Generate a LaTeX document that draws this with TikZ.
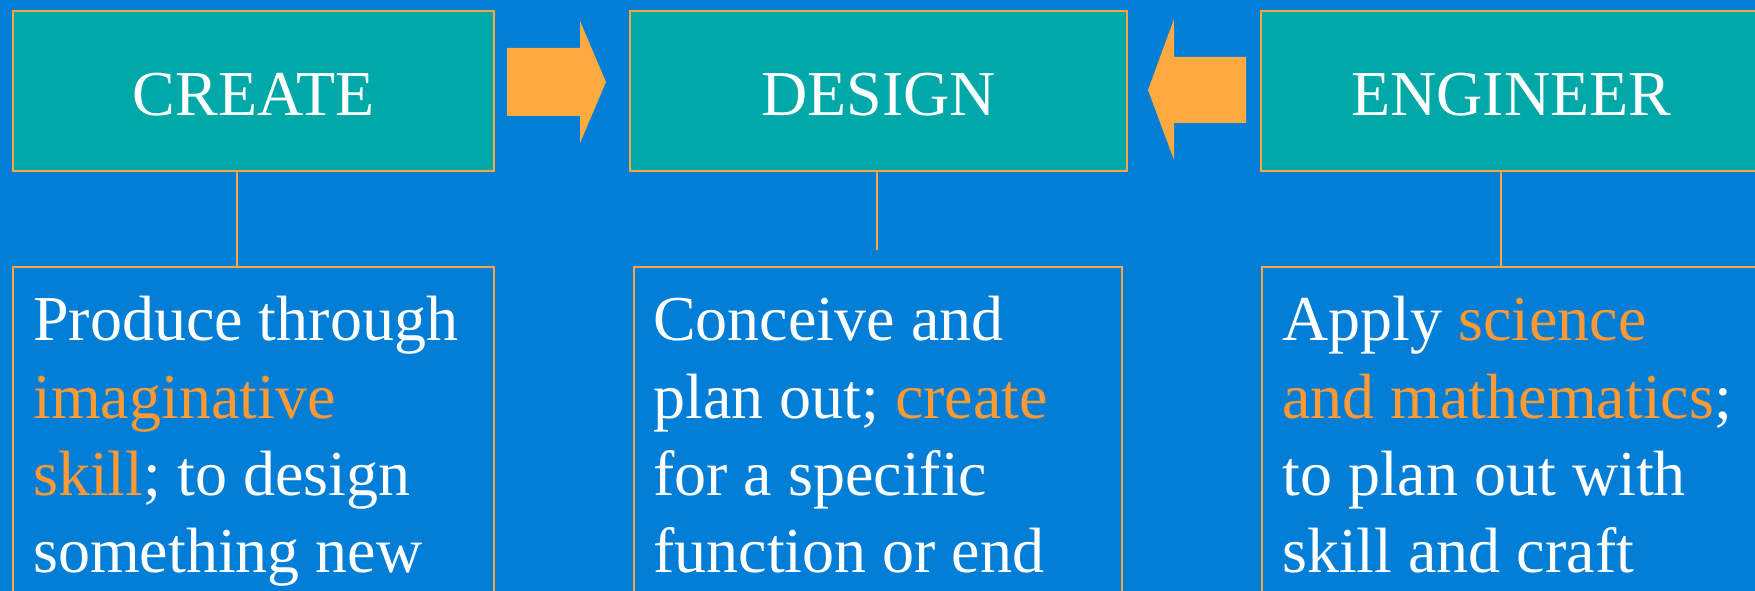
\documentclass[tikz,border=0pt]{standalone}
\usepackage{fontspec}
\setmainfont{Liberation Serif}
\usepackage{tikz}
\usetikzlibrary{positioning}

\definecolor{bgblue}{RGB}{2,126,214}
\definecolor{boxteal}{RGB}{0,168,168}
\definecolor{edgeorange}{RGB}{255,166,60}
\definecolor{arroworange}{RGB}{255,170,64}
\definecolor{hl}{RGB}{255,153,51}

\tikzset{
  topbox/.style={draw=edgeorange, line width=1.8pt, fill=boxteal, text=white,
    inner sep=0pt, anchor=north west, minimum height=120pt,
    font=\fontsize{48}{56}\selectfont, text height=36pt, text depth=0pt},
  lowbox/.style={draw=edgeorange, line width=1.8pt, inner sep=0pt,
    anchor=north west, minimum height=300pt},
  note/.style={text=white, inner sep=0pt, anchor=north west, align=left,
    font=\fontsize{48}{58}\selectfont},
  link/.style={draw=edgeorange, line width=1.8pt},
  blockarrow/.style={fill=arroworange, draw=none}
}

\begin{document}
\begin{tikzpicture}[x=0.75pt,y=0.75pt,yscale=-1,xscale=1]
    \useasboundingbox (0,0) rectangle (1755,591);
    \clip (0,0) rectangle (1755,591);
    \fill[bgblue] (0,0) rectangle (1755,591);

    %top row
    \node[topbox, minimum width=360.75pt] (createbox) at (12,10) {CREATE};
    \node[topbox, minimum width=372.75pt] (designbox) at (629,10) {DESIGN};
    \node[topbox, minimum width=375pt] (engbox) at (1260,10) {ENGINEER};

    %block arrows between the top boxes
    \path[blockarrow] (507,48) -- (580,48) -- (580,21) -- (606,82) -- (580,143) -- (580,116) -- (507,116) -- cycle;
    \path[blockarrow] (1246,57) -- (1174,57) -- (1174,19) -- (1148,90) -- (1174,160) -- (1174,123) -- (1246,123) -- cycle;

    %lower row
    \node[lowbox, minimum width=360.75pt] (createlow) at (12,266) {};
    \node[lowbox, minimum width=366pt] (designlow) at (633,266) {};
    \node[lowbox, minimum width=375pt] (englow) at (1261,266) {};

    \node[note] (createnote) at (33,296) {Produce through\\
      \textcolor{hl}{imaginative}\\
      \textcolor{hl}{skill}; to design\\
      something new};
    \node[note] (designnote) at (653,296) {Conceive and\\
      plan out; \textcolor{hl}{create}\\
      for a specific\\
      function or end};
    \node[note] (engnote) at (1282,296) {Apply \textcolor{hl}{science}\\
      \textcolor{hl}{and mathematics};\\
      to plan out with\\
      skill and craft};

    %connectors
    \coordinate (createx) at (237,0);
    \coordinate (designend) at (877,250);
    \coordinate (engx) at (1501,0);
    \draw[link] (createbox.south -| createx) -- (createlow.north -| createx);
    \draw[link] (designbox.south -| designend) -- (designend);
    \draw[link] (engbox.south -| engx) -- (englow.north -| engx);

\end{tikzpicture}
\end{document}
